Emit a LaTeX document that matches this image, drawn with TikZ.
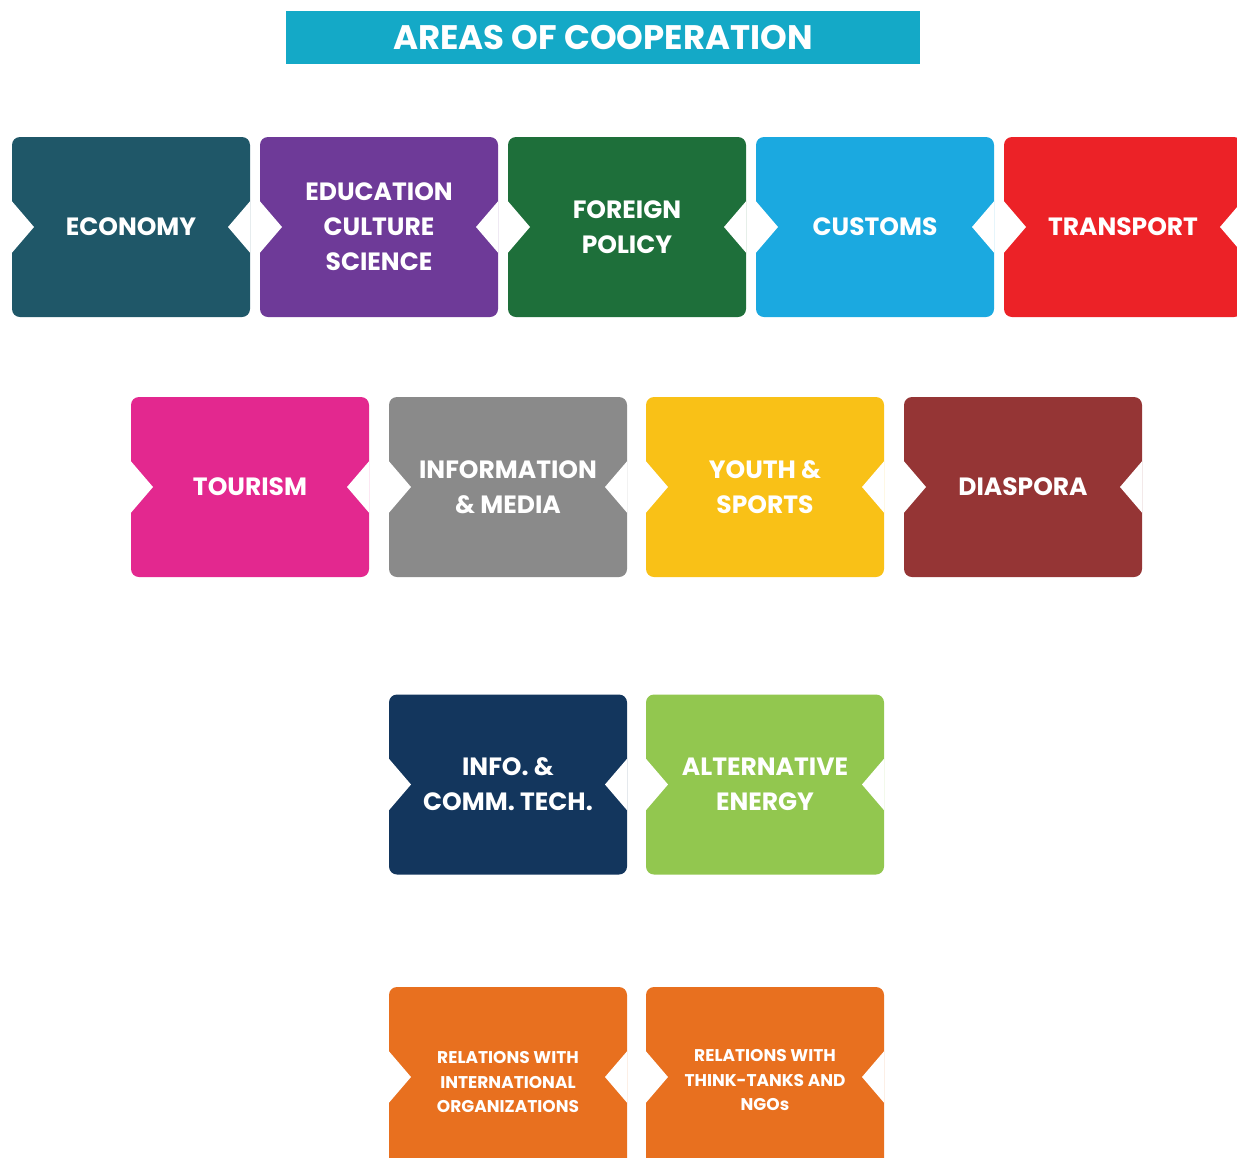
\documentclass[tikz,border=0pt]{standalone}
\usepackage{fontspec}
\setmainfont{Poppins}
\definecolor{cTitle}{HTML}{14A9C7}
\definecolor{cEco}{HTML}{1F5768}
\definecolor{cEdu}{HTML}{6E3A98}
\definecolor{cFor}{HTML}{1E6F3A}
\definecolor{cCus}{HTML}{1BA9E0}
\definecolor{cTra}{HTML}{EC2227}
\definecolor{cTou}{HTML}{E3288F}
\definecolor{cInf}{HTML}{8A8A8A}
\definecolor{cYou}{HTML}{F9C117}
\definecolor{cDia}{HTML}{953535}
\definecolor{cIct}{HTML}{13365D}
\definecolor{cAlt}{HTML}{92C74F}
\definecolor{cOra}{HTML}{E8701F}
\tikzset{
  tile/.style={rounded corners=8pt, minimum width=238pt, minimum height=180pt,
    inner sep=0pt, text=white, align=center,
    font=\fontsize{25}{35}\selectfont\bfseries,
    path picture={
      \fill[white, sharp corners]
        ([xshift=-2pt,yshift=28pt]path picture bounding box.west) --
        ([xshift=22pt]path picture bounding box.west) --
        ([xshift=-2pt,yshift=-28pt]path picture bounding box.west) -- cycle;
      \fill[white, sharp corners]
        ([xshift=2pt,yshift=28pt]path picture bounding box.east) --
        ([xshift=-22pt]path picture bounding box.east) --
        ([xshift=2pt,yshift=-28pt]path picture bounding box.east) -- cycle;
    }},
  smalltext/.style={inner sep=0pt, text=white, align=center,
    font=\fontsize{17}{24.5}\selectfont\bfseries},
  titlebar/.style={fill=cTitle, minimum width=634pt, minimum height=53pt,
    inner sep=0pt, text=white, font=\fontsize{34}{40}\selectfont\bfseries}
}
\begin{document}
\begin{tikzpicture}[x=1pt,y=-1pt]
\clip (0,0) rectangle (1237,1157);
\useasboundingbox (0,0) rectangle (1237,1157);
\node[titlebar] (title) at (603,37.5) {AREAS OF COOPERATION};
% row 1
\node[tile, fill=cEco] (eco) at (131,227) {ECONOMY};
\node[tile, fill=cEdu] (edu) at (379,227) {EDUCATION\\CULTURE\\SCIENCE};
\node[tile, fill=cFor] (for) at (627,227) {FOREIGN\\POLICY};
\node[tile, fill=cCus] (cus) at (875,227) {CUSTOMS};
\node[tile, fill=cTra] (tra) at (1123,227) {TRANSPORT};
% row 2
\node[tile, fill=cTou] (tou) at (250,487) {TOURISM};
\node[tile, fill=cInf] (inf) at (508,487) {INFORMATION\\\& MEDIA};
\node[tile, fill=cYou] (you) at (765,487) {YOUTH \&\\SPORTS};
\node[tile, fill=cDia] (dia) at (1023,487) {DIASPORA};
% row 3
\node[tile, fill=cIct] (ict) at (508,784.5) {INFO. \&\\COMM. TECH.};
\node[tile, fill=cAlt] (alt) at (765,784.5) {ALTERNATIVE\\ENERGY};
% row 4
\node[tile, fill=cOra] (rio) at (508,1077) {};
\node[smalltext] (riot) at (508,1082) {RELATIONS WITH\\INTERNATIONAL\\ORGANIZATIONS};
\node[tile, fill=cOra] (rtt) at (765,1077) {};
\node[smalltext] (rttt) at (765,1080) {RELATIONS WITH\\THINK-TANKS AND\\NGOs};
\end{tikzpicture}
\end{document}
